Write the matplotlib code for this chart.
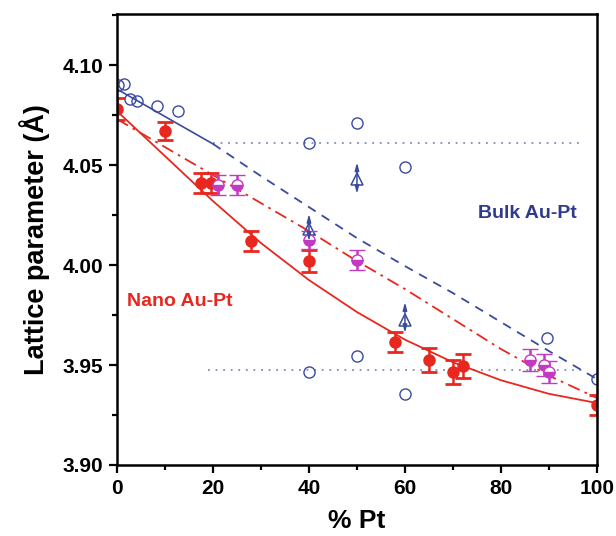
import numpy as np
import matplotlib
matplotlib.use('Agg')
from matplotlib import pyplot as plt
from matplotlib.ticker import MultipleLocator, FormatStrFormatter

plt.rcParams['font.family'] = ['Liberation Sans', 'DejaVu Sans']
plt.rcParams['font.weight'] = 'bold'

RED = '#e8271f'
BLUE = '#3a4a9e'
MAGENTA = '#c23ac4'
DOT = '#7f8ac4'

# nano particles, red points with error bars
nano_x = [0, 10, 17.5, 19.5, 28, 40, 58, 65, 70, 72, 100]
nano_y = [4.078, 4.067, 4.041, 4.041, 4.012, 4.002, 3.9614, 3.9526, 3.9464, 3.9493, 3.9298]
nano_err = [0.0055, 0.0045, 0.005, 0.005, 0.005, 0.0055, 0.005, 0.006, 0.006, 0.006, 0.005]

# second nano set, half filled magenta circles
nano2_x = [21, 25, 40, 50, 86, 89, 90]
nano2_y = [4.040, 4.040, 4.0123, 4.0023, 3.9526, 3.9498, 3.9464]
nano2_err = [0.005, 0.005, 0.0045, 0.005, 0.0055, 0.0055, 0.0055]

# bulk literature values, open circles
bulk_x = [0.3, 1.5, 2.8, 4.1, 8.3, 12.8, 40, 50, 60, 40, 50, 60, 89.5, 100]
bulk_y = [4.0903, 4.0906, 4.0831, 4.0823, 4.0794, 4.0773,
          4.061, 4.071, 4.049, 3.9464, 3.9544, 3.9356, 3.9636, 3.9428]

# triangles with arrow ranges
tri_x = [40, 50, 60]
tri_y = [4.018, 4.0431, 3.9726]
tri_lo = [4.012, 4.0356, 3.966]
tri_hi = [4.0256, 4.0514, 3.9815]

# fitted curves
curve_x = [0, 10, 20, 30, 40, 50, 60, 70, 80, 90, 100]
nano_fit = [4.077, 4.0545, 4.032, 4.011, 3.9925, 3.9765, 3.9627, 3.9514, 3.9424, 3.9356, 3.931]
nano2_fit = [4.073, 4.059, 4.045, 4.031, 4.017, 4.002, 3.988, 3.973, 3.958, 3.9447, 3.9335]
bulk_solid_x = [0, 20]
bulk_solid_y = [4.088, 4.0606]
bulk_dash_x = [20, 30, 40, 50, 60, 70, 80, 90, 100]
bulk_dash_y = [4.0606, 4.0445, 4.029, 4.0135, 3.9995, 3.986, 3.9715, 3.957, 3.943]

# horizontal reference levels
hline_y = [4.061, 3.9473]
hline_x0 = [20, 19]
hline_x1 = [96.5, 97.8]

fig = plt.figure(figsize=(6.16, 5.36), dpi=100)
ax = fig.add_axes([0.190, 0.1325, 0.779, 0.841])

for y, x0, x1 in zip(hline_y, hline_x0, hline_x1):
    ax.plot([x0, x1], [y, y], color=DOT, lw=1.3, ls=(0, (1, 3.2)))

ax.plot(curve_x, nano_fit, color=RED, lw=1.3)
ax.plot(curve_x, nano2_fit, color=RED, lw=1.3, ls=(0, (7, 3, 1.5, 3)))
ax.plot(bulk_solid_x, bulk_solid_y, color=BLUE, lw=1.2)
ax.plot(bulk_dash_x, bulk_dash_y, color=BLUE, lw=1.3, ls=(0, (5, 4)))

ax.plot(bulk_x, bulk_y, 'o', ms=8, mfc='none', mec=BLUE, mew=1.0)

for x, lo, hi in zip(tri_x, tri_lo, tri_hi):
    ax.annotate('', xy=(x, hi), xytext=(x, lo),
                arrowprops=dict(arrowstyle='<|-|>,head_length=0.45,head_width=0.12',
                                color=BLUE, lw=1.1, shrinkA=0, shrinkB=0))
ax.plot(tri_x, tri_y, '^', ms=8, mfc='none', mec=BLUE, mew=1.1)

ax.errorbar(nano_x, nano_y, yerr=nano_err, fmt='o', ms=8, color=RED,
            ecolor=RED, elinewidth=1.8, capsize=6, capthick=2)
ax.errorbar(nano2_x, nano2_y, yerr=nano2_err, fmt='o', ms=8, color=MAGENTA,
            mfc=MAGENTA, mec=MAGENTA, fillstyle='bottom', markerfacecoloralt='white',
            mew=1.0, ecolor=MAGENTA, elinewidth=1.8, capsize=6, capthick=2)

ax.text(75.2, 4.026, 'Bulk Au-Pt', color='#2e3b8c', fontsize=14,
        fontweight='bold', va='center', ha='left')
ax.text(2.0, 3.982, 'Nano Au-Pt', color=RED, fontsize=14,
        fontweight='bold', va='center', ha='left')

ax.set_xlim(0, 100)
ax.set_ylim(3.90, 4.1255)
ax.xaxis.set_major_locator(MultipleLocator(20))
ax.xaxis.set_minor_locator(MultipleLocator(10))
ax.yaxis.set_major_locator(MultipleLocator(0.05))
ax.yaxis.set_minor_locator(MultipleLocator(0.025))
ax.yaxis.set_major_formatter(FormatStrFormatter('%.2f'))
ax.tick_params(which='major', direction='out', length=6, width=1.6, labelsize=15, pad=4)
ax.tick_params(which='minor', direction='out', length=3.5, width=1.6)
for lbl in ax.get_xticklabels() + ax.get_yticklabels():
    lbl.set_fontweight('bold')
for s in ax.spines.values():
    s.set_linewidth(1.8)

ax.set_xlabel('% Pt', fontsize=19, fontweight='bold', labelpad=8)
ax.set_ylabel('Lattice parameter (Å)', fontsize=19.5, fontweight='bold', labelpad=9)

fig.savefig('out.png', dpi=100)
